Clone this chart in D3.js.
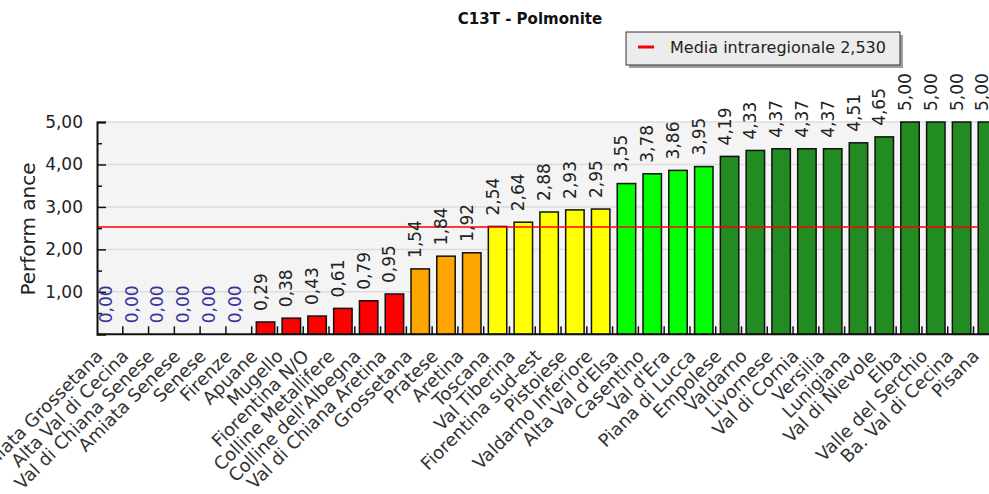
<!DOCTYPE html>
<html>
<head>
<meta charset="utf-8">
<script src="https://cdn.jsdelivr.net/npm/d3@7"></script>
<style>
  html, body { margin: 0; padding: 0; background: #ffffff; overflow: hidden; }
  svg { display: block; font-family: "DejaVu Sans", Verdana, sans-serif; }
</style>
</head>
<body>
<svg id="chart" width="989" height="494"></svg>
<script>
const title = "C13T - Polmonite";
const yAxisLabel = "Perform ance";
const legendLabel = "Media intraregionale 2,530";
const regionalMean = 2.53;

const categories = [
  "Amiata Grossetana", "Alta Val di Cecina", "Val di Chiana Senese", "Amiata Senese",
  "Senese", "Firenze", "Apuane", "Mugello", "Fiorentina N/O", "Colline Metallifere",
  "Colline dell'Albegna", "Val di Chiana Aretina", "Grossetana", "Pratese", "Aretina",
  "Toscana", "Val Tiberina", "Fiorentina sud-est", "Pistoiese", "Valdarno Inferiore",
  "Alta Val d'Elsa", "Casentino", "Val d'Era", "Piana di Lucca", "Empolese", "Valdarno",
  "Livornese", "Val di Cornia", "Versilia", "Lunigiana", "Val di Nievole", "Elba",
  "Valle del Serchio", "Ba. Val di Cecina", "Pisana"
];
const values = [
  0.00, 0.00, 0.00, 0.00, 0.00, 0.00, 0.29, 0.38, 0.43, 0.61,
  0.79, 0.95, 1.54, 1.84, 1.92, 2.54, 2.64, 2.88, 2.93, 2.95,
  3.55, 3.78, 3.86, 3.95, 4.19, 4.33, 4.37, 4.37, 4.37, 4.51,
  4.65, 5.00, 5.00, 5.00, 5.00
];
const yTicks = [1, 2, 3, 4, 5];
const classBreaks = [1, 2.5, 3.5, 4];
const classColors = ["#ff0000", "#ffa500", "#ffff00", "#00ff00", "#228b22"];

const data = categories.map((c, i) => ({ name: c, value: values[i] }));
const fmt = v => d3.format(".2f")(v).replace(".", ",");

const svg = d3.select("#chart");
const mLeft = 97, mTop = 122, mBottom = 334.3;
const step = 25.78;
const mRight = mLeft + step * categories.length;

const x = d3.scaleBand().domain(categories).range([mLeft, mRight]).padding(0);
const y = d3.scaleLinear().domain([0, 5]).range([mBottom, mTop]);
const color = d3.scaleThreshold().domain(classBreaks).range(classColors);

// plot background
svg.append("rect")
  .attr("x", mLeft).attr("y", mTop)
  .attr("width", mRight - mLeft).attr("height", mBottom - mTop)
  .attr("fill", "#f4f4f4");

// gridlines
svg.append("g").selectAll("line").data(yTicks).join("line")
  .attr("x1", mLeft).attr("x2", mRight)
  .attr("y1", d => y(d)).attr("y2", d => y(d))
  .attr("stroke", "#dcdcdc").attr("stroke-width", 1.5);

// bars
const bw = x.bandwidth();
svg.append("g").selectAll("rect").data(data.filter(d => d.value > 0)).join("rect")
  .attr("x", d => x(d.name) + bw * 0.18)
  .attr("width", bw * 0.715)
  .attr("y", d => y(d.value))
  .attr("height", d => y(0) - y(d.value))
  .attr("fill", d => color(d.value))
  .attr("stroke", "#111")
  .attr("stroke-width", 1.5);

// mean line
svg.append("line")
  .attr("x1", mLeft).attr("x2", x(categories[categories.length - 1]) + bw * 0.18)
  .attr("y1", y(regionalMean)).attr("y2", y(regionalMean))
  .attr("stroke", "#ff0000").attr("stroke-width", 1.5);

// y axis
const yAxis = d3.axisLeft(y).tickValues(d3.range(0.5, 5.01, 0.5))
  .tickSize(-9).tickPadding(14)
  .tickFormat(d => (Math.abs(d - Math.round(d)) < 1e-9) ? fmt(d) : "");
const gy = svg.append("g").attr("transform", `translate(${mLeft},0)`).call(yAxis);
gy.select(".domain").attr("stroke", "#111").attr("stroke-width", 2);
gy.selectAll(".tick line")
  .attr("stroke", "#111").attr("stroke-width", 1.5)
  .attr("x2", d => (Math.abs(d - Math.round(d)) < 1e-9) ? 9 : 5);
gy.selectAll(".tick text").attr("font-size", 17).attr("fill", "#222")
  .attr("font-family", "DejaVu Sans, Verdana, sans-serif");

// x axis (ticks at band boundaries, pointing up)
const gx = svg.append("g");
gx.append("line").attr("x1", mLeft).attr("x2", mRight)
  .attr("y1", mBottom).attr("y2", mBottom)
  .attr("stroke", "#111").attr("stroke-width", 2);
gx.selectAll("line.tk").data(categories.slice(1)).join("line").attr("class", "tk")
  .attr("x1", d => x(d)).attr("x2", d => x(d))
  .attr("y1", mBottom).attr("y2", mBottom - 8)
  .attr("stroke", "#111").attr("stroke-width", 1.5);

// category labels
svg.append("g").selectAll("text").data(categories).join("text")
  .attr("transform", d => `translate(${x(d) + bw / 2 - 6},${mBottom + 23}) rotate(-45)`)
  .attr("text-anchor", "end")
  .attr("font-size", 18)
  .attr("fill", "#333")
  .text(d => d);

// value labels
svg.append("g").selectAll("text").data(data).join("text")
  .attr("transform", d => `translate(${x(d.name) + bw / 2 + 2},${y(d.value) - 11}) rotate(-90)`)
  .attr("text-anchor", "start")
  .attr("font-size", 17)
  .attr("fill", d => d.value === 0 ? "#33339a" : "#222")
  .text(d => fmt(d.value));

// y axis title
svg.append("text")
  .attr("transform", `translate(35,229) rotate(-90)`)
  .attr("text-anchor", "middle")
  .attr("font-size", 20)
  .attr("fill", "#222")
  .text(yAxisLabel);

// title
svg.append("text")
  .attr("x", 530).attr("y", 24)
  .attr("text-anchor", "middle")
  .attr("font-size", 15)
  .attr("font-weight", "bold")
  .attr("fill", "#111")
  .text(title);

// legend
const lg = svg.append("g");
lg.append("rect").attr("x", 629).attr("y", 35).attr("width", 274).attr("height", 33)
  .attr("fill", "#a0a0a0");
lg.append("rect").attr("x", 626).attr("y", 32).attr("width", 274).attr("height", 33)
  .attr("fill", "#ececec").attr("stroke", "#333").attr("stroke-width", 1);
lg.append("line").attr("x1", 638).attr("x2", 654).attr("y1", 47).attr("y2", 47)
  .attr("stroke", "#ff0000").attr("stroke-width", 3);
lg.append("text").attr("x", 670).attr("y", 53).attr("font-size", 16).attr("fill", "#222")
  .text(legendLabel);
</script>
</body>
</html>
